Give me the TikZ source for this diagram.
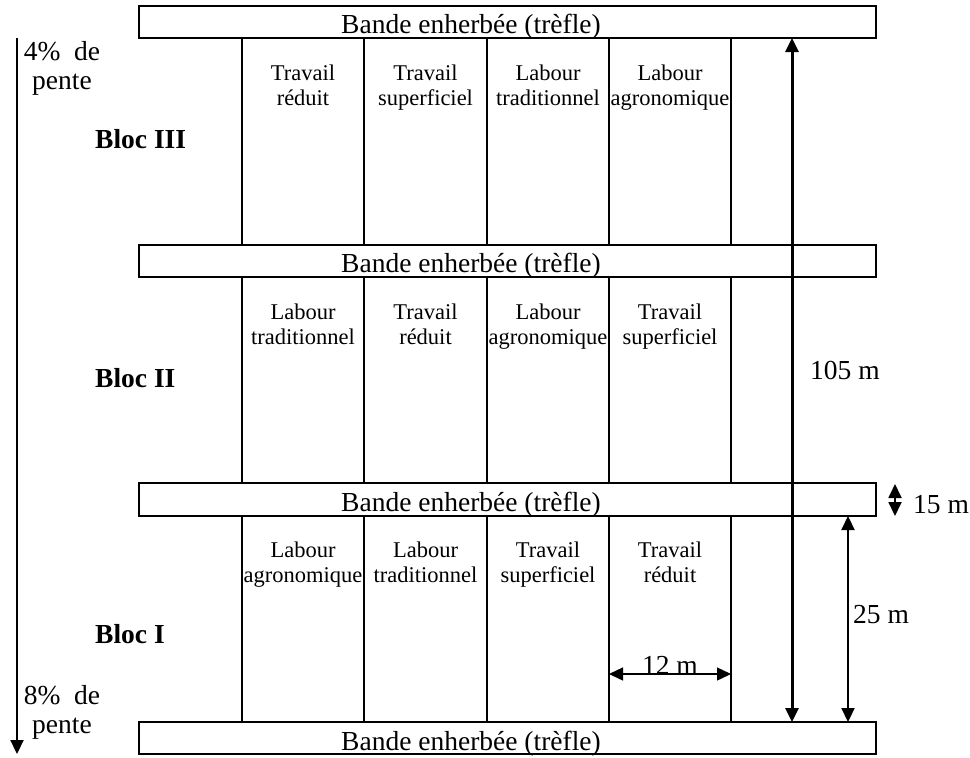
\documentclass[tikz,border=0pt]{standalone}
\usepackage{fontspec}
\setmainfont{Liberation Serif}
\usetikzlibrary{arrows.meta}
\begin{document}
\begin{tikzpicture}[x=1pt,y=-1pt,
  >={Triangle[length=14pt,width=13pt]},
  band/.style={draw,line width=1.4pt,minimum width=737pt,minimum height=32pt,inner sep=0pt},
  bandtext/.style={anchor=base west,inner sep=0pt,font=\fontsize{27.5}{30}\selectfont},
  cell/.style={anchor=base,inner sep=0pt,align=center,font=\fontsize{22.5}{25}\selectfont},
  bloc/.style={anchor=base west,inner sep=0pt,font=\fontsize{27.5}{30}\selectfont\bfseries},
  lbl/.style={anchor=base west,inner sep=0pt,font=\fontsize{27.5}{30}\selectfont},
  slope/.style={anchor=base,inner sep=0pt,align=center,font=\fontsize{27.5}{29}\selectfont},
  partition/.style={line width=1.4pt}]
\useasboundingbox (0,0) rectangle (970,758);

% grass strips
\node[band] (b1) at (507.5,22) {};
\node[band] (b2) at (507.5,261) {};
\node[band,minimum height=33pt] (b3) at (507.5,499.5) {};
\node[band] (b4) at (507.5,738) {};
\node[bandtext] (t1) at (341,33) {Bande enherbée (trèfle)};
\node[bandtext] (t2) at (341,272) {Bande enherbée (trèfle)};
\node[bandtext] (t3) at (341,511) {Bande enherbée (trèfle)};
\node[bandtext] (t4) at (341,750) {Bande enherbée (trèfle)};

% plot boundaries
\foreach \x in {242,364,487,609,731}{
  \draw[partition] (\x,38) -- (\x,245);
  \draw[partition] (\x,277) -- (\x,483);
  \draw[partition] (\x,516) -- (\x,722);
}

% block III (base anchor = last line)
\node[cell] (c31) at (303,105) {Travail\\réduit};
\node[cell] (c32) at (425.5,105) {Travail\\superficiel};
\node[cell] (c33) at (548,105) {Labour\\traditionnel};
\node[cell] (c34) at (670,105) {Labour\\agronomique};
% block II
\node[cell] (c21) at (303,344) {Labour\\traditionnel};
\node[cell] (c22) at (425.5,344) {Travail\\réduit};
\node[cell] (c23) at (548,344) {Labour\\agronomique};
\node[cell] (c24) at (670,344) {Travail\\superficiel};
% block I
\node[cell] (c11) at (303,582) {Labour\\agronomique};
\node[cell] (c12) at (425.5,582) {Labour\\traditionnel};
\node[cell] (c13) at (548,582) {Travail\\superficiel};
\node[cell] (c14) at (670,582) {Travail\\réduit};

% block names
\node[bloc] (bl3) at (95,148) {Bloc III};
\node[bloc] (bl2) at (95,387) {Bloc II};
\node[bloc] (bl1) at (95,643) {Bloc I};

% slope
\coordinate (stop) at (17,38);
\coordinate (sbot) at (17,754);
\draw[line width=2.2pt,->] (stop) -- (sbot);
\node[slope] (s4) at (62,89) {4\%\ \ de\\pente};
\node[slope] (s8) at (62,733) {8\%\ \ de\\pente};

% dimensions
\coordinate (h1) at (792,38);
\coordinate (h2) at (792,722);
\draw[line width=3pt,<->] (h1) -- (h2);
\node[lbl] (d105) at (810,379) {105 m};

\coordinate (p1) at (848,516);
\coordinate (p2) at (848,722);
\draw[line width=2.2pt,<->] (p1) -- (p2);
\node[lbl] (d25) at (853,623) {25 m};

\coordinate (g1) at (895,484);
\coordinate (g2) at (895,516);
\draw[line width=1.8pt,<->] (g1) -- (g2);
\node[lbl] (d15) at (913,513) {15 m};

\coordinate (w1) at (609,674);
\coordinate (w2) at (731,674);
\draw[line width=1.4pt,<->] (w1) -- (w2);
\node[lbl,anchor=base] (d12) at (670,674) {12 m};
\end{tikzpicture}
\end{document}
